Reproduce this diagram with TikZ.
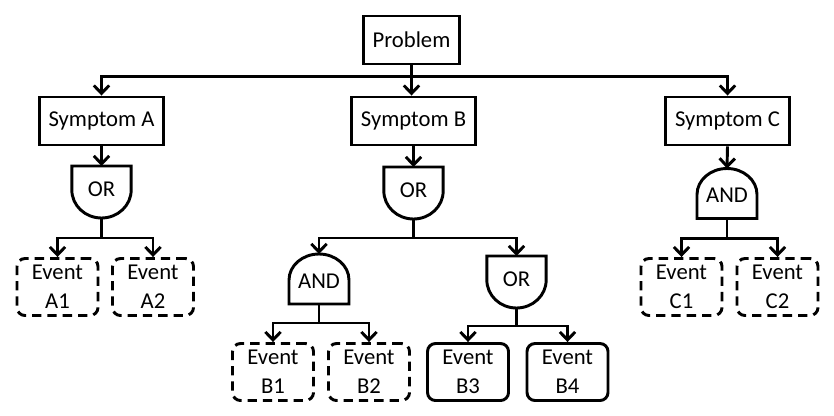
\documentclass[tikz,border=0pt]{standalone}
\usepackage{fontspec}
\setmainfont{Carlito}
\usetikzlibrary{arrows.meta}

\begin{document}
\begin{tikzpicture}[x=0.75pt, y=0.75pt, line width=2.2pt,
        font=\fontsize{17}{21.75}\selectfont,
        arr/.style = {-{Straight Barb[length=6pt, width=11.5pt]}},
        box/.style = {draw, minimum height=36pt, inner xsep=7pt},
        evsolid/.style = {draw, rounded corners=6pt, minimum width=60.75pt, minimum height=42.75pt, align=center, inner sep=1pt},
        evdash/.style = {evsolid, dash pattern=on 7pt off 4.5pt},
        orgate/.style = {minimum width=44.5pt, minimum height=39pt, inner sep=0pt, outer sep=0pt, text depth=4pt},
        andgate/.style = {minimum width=45pt, minimum height=37.5pt, inner sep=0pt, outer sep=0pt, text height=14pt}]
        \useasboundingbox (0,0) rectangle (834,-415);

        \node[box] (prob) at (411.5,-40) {Problem};
        \node[box] (symA) at (101.5,-121) {Symptom A};
        \node[box] (symB) at (413.5,-121) {Symptom B};
        \node[box] (symC) at (727.5,-121) {Symptom C};

        % gates
        \node[orgate] (gA) at (101.5,-192) {OR};
        \node[orgate] (gB) at (413.5,-193) {OR};
        \node[andgate] (gB1) at (319,-279) {AND};
        \node[orgate] (gB2) at (516.5,-282) {OR};
        \node[andgate] (gC) at (727,-193.5) {AND};

        \draw (gA.north west) -- (gA.north east) -- ++(0,-18pt) arc[start angle=0, end angle=-180, x radius=22.25pt, y radius=21pt] -- cycle;
        \draw (gB.north west) -- (gB.north east) -- ++(0,-18pt) arc[start angle=0, end angle=-180, x radius=22.25pt, y radius=21pt] -- cycle;
        \draw (gB2.north west) -- (gB2.north east) -- ++(0,-18pt) arc[start angle=0, end angle=-180, x radius=22.25pt, y radius=21pt] -- cycle;
        \draw (gB1.south west) -- ++(0,18pt) arc[start angle=180, end angle=0, x radius=22.5pt, y radius=19.5pt] -- (gB1.south east) -- cycle;
        \draw (gC.south west) -- ++(0,18pt) arc[start angle=180, end angle=0, x radius=22.5pt, y radius=19.5pt] -- (gC.south east) -- cycle;

        % events
        \node[evdash] (eA1) at (57.5,-287) {Event\\A1};
        \node[evdash] (eA2) at (153,-287) {Event\\A2};
        \node[evdash] (eB1) at (273,-372) {Event\\B1};
        \node[evdash] (eB2) at (369,-372) {Event\\B2};
        \node[evsolid] (eB3) at (468,-372) {Event\\B3};
        \node[evsolid] (eB4) at (567.5,-372) {Event\\B4};
        \node[evdash] (eC1) at (681.5,-287) {Event\\C1};
        \node[evdash] (eC2) at (777.5,-287) {Event\\C2};

        \draw[arr] (prob.south) -- ++(0,-11) -| (symA.north);
        \draw[arr] (prob.south) -- (prob.south |- symB.north);
        \draw[arr] (prob.south) -- ++(0,-11) -| (symC.north);

        \draw[arr] (symA.south) -- (gA.north);
        \draw[arr] (symB.south) -- (gB.north);
        \draw[arr] (symC.south) -- (gC.north);

        \draw[arr] (gA.south) -- ++(0,-20) -| (eA1.north);
        \draw[arr] (gA.south) -- ++(0,-20) -| (eA2.north);
        \draw[arr] (gB.south) -- ++(0,-19) -| (gB1.north);
        \draw[arr] (gB.south) -- ++(0,-19) -| (gB2.north);
        \draw[arr] (gB1.south) -- ++(0,-19) -| (eB1.north);
        \draw[arr] (gB1.south) -- ++(0,-19) -| (eB2.north);
        \draw[arr] (gB2.south) -- ++(0,-18) -| (eB3.north);
        \draw[arr] (gB2.south) -- ++(0,-18) -| (eB4.north);
        \draw[arr] (gC.south) -- ++(0,-20) -| (eC1.north);
        \draw[arr] (gC.south) -- ++(0,-20) -| (eC2.north);

    \end{tikzpicture}
\end{document}
